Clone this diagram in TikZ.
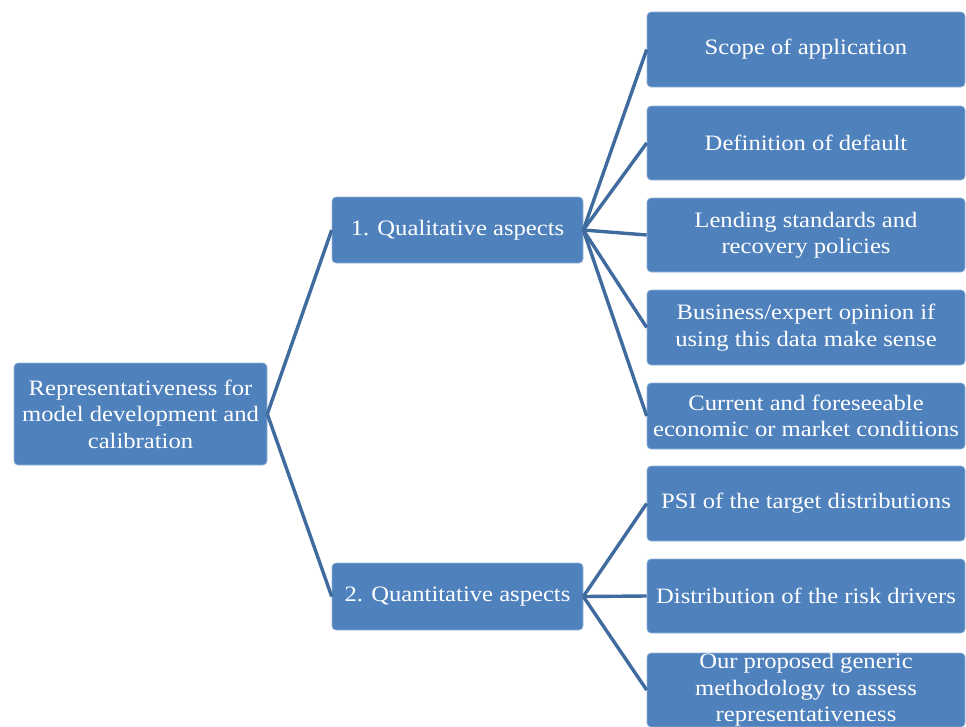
\documentclass[tikz,border=0pt]{standalone}
\usepackage{fontspec}
\setmainfont{Liberation Serif}[FakeStretch=1.12]
\definecolor{boxblue}{HTML}{4F81BD}
\definecolor{lineblue}{HTML}{3F6B9F}
\begin{document}
\begin{tikzpicture}[x=1pt,y=-1pt,
  box/.style={fill=boxblue, draw=boxblue!60!white, line width=0.6pt, rounded corners=4pt,
    text=white, font=\fontsize{22}{26.5}\selectfont, align=center, inner sep=0pt},
  conn/.style={draw=lineblue, line width=3.4pt}]
\useasboundingbox (0,0) rectangle (966,726);
\begin{scope}
\clip (0,0) rectangle (966,726);
\node[box, minimum width=253pt, minimum height=102pt] (root) at (140.5,414) {Representativeness for\\model development and\\calibration};
\node[box, minimum width=251pt, minimum height=66pt] (qual) at (457.5,230) {1. Qualitative aspects};
\node[box, minimum width=251pt, minimum height=67pt] (quant) at (457.5,596.5) {2. Quantitative aspects};
\node[box, minimum width=318pt, minimum height=75pt] (scope) at (806,49.5) {Scope of application};
\node[box, minimum width=318pt, minimum height=74pt] (def) at (806,143) {Definition of default};
\node[box, minimum width=318pt, minimum height=74pt] (lend) at (806,235) {Lending standards and\\recovery policies};
\node[box, minimum width=318pt, minimum height=75pt] (bus) at (806,327.5) {Business/expert opinion if\\using this data make sense};
\node[box, minimum width=318pt, minimum height=66pt] (curr) at (806,416) {Current and foreseeable\\economic or market conditions};
\node[box, minimum width=318pt, minimum height=75pt] (psi) at (806,503.5) {PSI of the target distributions};
\node[box, minimum width=318pt, minimum height=74pt] (dist) at (806,596) {Distribution of the risk drivers};
\node[box, minimum width=318pt, minimum height=74pt] (our) at (806,690) {Our proposed generic\\methodology to assess\\representativeness};
\draw[conn] (root.east) -- (qual.west);
\draw[conn] (root.east) -- (quant.west);
\foreach \t in {scope,def,lend,bus,curr} \draw[conn] (qual.east) -- (\t.west);
\foreach \t in {psi,dist,our} \draw[conn] (quant.east) -- (\t.west);
\end{scope}
\end{tikzpicture}
\end{document}
